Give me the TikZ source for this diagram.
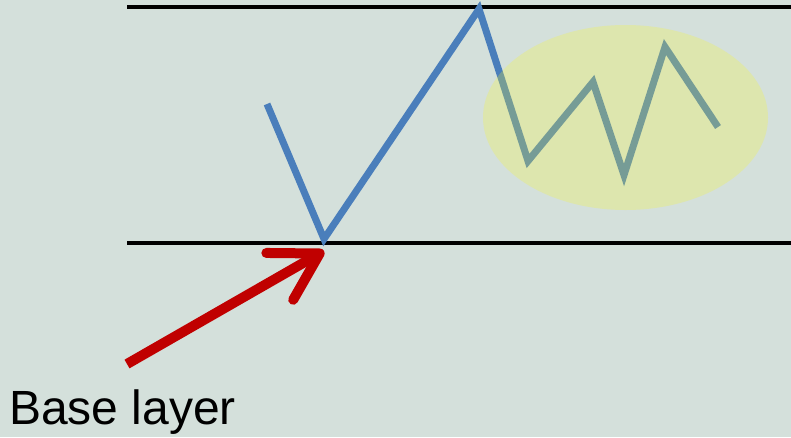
\documentclass[tikz,border=0pt]{standalone}
\usepackage{fontspec}
\setmainfont{Liberation Sans}
\usetikzlibrary{arrows.meta}
\definecolor{bgpanel}{RGB}{212, 224, 219}
\definecolor{signal}{RGB}{74, 126, 187}
\definecolor{highlight}{RGB}{250, 248, 40}
\definecolor{pointer}{RGB}{192, 0, 0}

\tikzset{
	level/.style={black, line width=3.2pt},
	signalline/.style={signal, line width=7pt, line join=miter},
	pointerline/.style={pointer, line width=10pt, -{Straight Barb[length=46pt, width=54pt, round]}},
}

\begin{document}
\begin{tikzpicture}[x=1pt, y=-1pt]
	% Background panel
	\fill[bgpanel] (0,0) rectangle (791,437);
	\useasboundingbox (0,0) rectangle (791,437);

	% Upper and lower levels
	\coordinate (topL) at (127, 7);
	\coordinate (topR) at (791, 7);
	\coordinate (baseL) at (127, 243);
	\coordinate (baseR) at (791, 243);
	\draw[level] (topL) -- (topR);
	\draw[level] (baseL) -- (baseR);

	% Zigzag signal
	\coordinate (s0) at (267, 104);
	\coordinate (s1) at (324, 239);
	\coordinate (s2) at (479, 9);
	\coordinate (s3) at (528, 161);
	\coordinate (s4) at (593, 82);
	\coordinate (s5) at (624, 175);
	\coordinate (s6) at (665, 47);
	\coordinate (s7) at (718, 127);
	\draw[signalline] (s0) -- (s1) -- (s2) -- (s3) -- (s4) -- (s5) -- (s6) -- (s7);

	% Highlighted fluctuation
	\fill[highlight, fill opacity=0.25] (625.5, 117.5) ellipse [x radius=142.5, y radius=92.5];

	% Pointer to the base layer
	\coordinate (tail) at (127, 364);
	\node[font=\fontsize{48}{58}\selectfont, inner sep=0pt, anchor=base west] (label) at (9, 424) {Base layer};
	\draw[pointerline] (tail) -- (s1 |- 0, 251);

\end{tikzpicture}
\end{document}
